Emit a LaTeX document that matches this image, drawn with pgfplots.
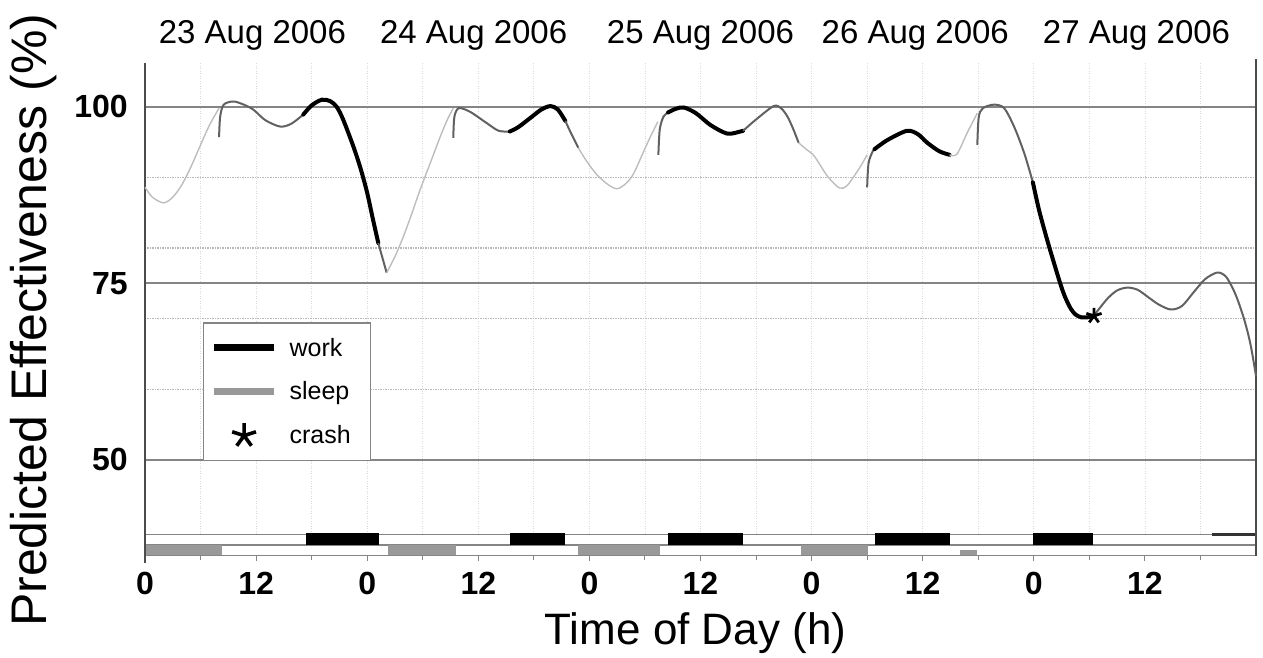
\documentclass[border=0pt]{standalone}
\usepackage{pgfplots}
\pgfplotsset{compat=1.18}
\usepackage{fontspec}
\setmainfont{Liberation Sans}
\definecolor{lightc}{gray}{0.74}
\definecolor{medc}{gray}{0.38}
\definecolor{gridmaj}{gray}{0.52}
\definecolor{gridmin}{gray}{0.72}
\definecolor{sleepc}{gray}{0.60}
\definecolor{axisc}{gray}{0.30}
\begin{document}
\begin{tikzpicture}
\begin{axis}[
  at={(0,0)}, anchor=south west,
  scale only axis, width=1111pt, height=493pt,
  xmin=0, xmax=120, ymin=36.4, ymax=106.2,
  clip=false,
  axis line style={draw=none},
  xtick={0,12,...,108},
  xticklabels={0,12,0,12,0,12,0,12,0,12},
  minor xtick={6,18,...,114},
  xtick pos=bottom, ytick pos=left,
  ytick={50,75,100},
  ytick style={draw=none},
  xtick style={draw=gridmaj, line width=1pt},
  tick align=outside,
  major tick length=5pt, minor tick length=4pt,
  /pgf/number format/assume math mode=true,
  tick label style={font=\fontsize{32}{32}\selectfont\bfseries},
  xticklabel style={anchor=center, yshift=-22pt},
  yticklabel style={anchor=east, inner sep=0pt, xshift=-12pt},
  xlabel={Time of Day (h)},
  ylabel={Predicted Effectiveness (\%)},
  xlabel style={at={(axis description cs:0.4955,-0.1805)}, anchor=base, font=\fontsize{44}{44}\selectfont},
  ylabel style={at={(axis description cs:-0.0891,0.478)}, anchor=base, font=\fontsize{50}{50}\selectfont},
  legend style={at={(axis description cs:0.0522,0.474)}, anchor=north west,
    draw=gridmaj, line width=1.2pt, fill=white,
    font=\fontsize{25}{25}\selectfont,
    inner xsep=7pt, inner ysep=13pt, row sep=20pt,
    nodes={inner sep=2pt},
    /tikz/every odd column/.append style={column sep=10pt},
    /tikz/every even column/.append style={text width=72pt}},
  legend cell align=left,
]
% grid lines
\pgfplotsinvokeforeach{6,12,...,114}{\draw[gray!30, line width=0.8pt, dash pattern=on 1pt off 1.5pt] (axis cs:#1,39.5) -- (axis cs:#1,106.2);}
\pgfplotsinvokeforeach{60,70,80,90}{\draw[gridmin, line width=1.2pt, dash pattern=on 1.5pt off 1pt] (axis cs:0,#1) -- (axis cs:120,#1);}
\pgfplotsinvokeforeach{50,75,100}{\draw[gridmaj, line width=2pt] (axis cs:0,#1) -- (axis cs:120,#1);}

% bar rows
\addplot[forget plot, draw=gridmaj, line width=1pt, fill=white] coordinates {(0,38.0) (120,38.0) (120,39.5) (0,39.5) (0,38.0)};
\addplot[forget plot, draw=gridmaj, line width=1pt, fill=white] coordinates {(0,36.5) (120,36.5) (120,37.9) (0,37.9) (0,36.5)};
% work
\addplot[forget plot, fill=black, draw=none] coordinates {(17.4,38.0) (25.3,38.0) (25.3,39.6) (17.4,39.6)};
\addplot[forget plot, fill=black, draw=none] coordinates {(39.4,38.0) (45.4,38.0) (45.4,39.6) (39.4,39.6)};
\addplot[forget plot, fill=black, draw=none] coordinates {(56.5,38.0) (64.6,38.0) (64.6,39.6) (56.5,39.6)};
\addplot[forget plot, fill=black, draw=none] coordinates {(78.8,38.0) (86.9,38.0) (86.9,39.6) (78.8,39.6)};
\addplot[forget plot, fill=black, draw=none] coordinates {(95.9,38.0) (102.4,38.0) (102.4,39.6) (95.9,39.6)};
\addplot[forget plot, fill=black!80, draw=none] coordinates {(115.3,39.3) (120,39.3) (120,39.7) (115.3,39.7)};
% sleep
\addplot[forget plot, fill=sleepc, draw=none] coordinates {(0,36.5) (8.3,36.5) (8.3,37.9) (0,37.9)};
\addplot[forget plot, fill=sleepc, draw=none] coordinates {(26.3,36.5) (33.6,36.5) (33.6,37.9) (26.3,37.9)};
\addplot[forget plot, fill=sleepc, draw=none] coordinates {(46.8,36.5) (55.6,36.5) (55.6,37.9) (46.8,37.9)};
\addplot[forget plot, fill=sleepc, draw=none] coordinates {(70.9,36.5) (78.1,36.5) (78.1,37.9) (70.9,37.9)};
\addplot[forget plot, fill=sleepc, draw=none] coordinates {(88.0,36.6) (89.9,36.6) (89.9,37.2) (88.0,37.2)};

% axis side lines
\draw[axisc, line width=2.2pt] (axis cs:0,35.4) -- (axis cs:0,106.2);
\draw[axisc, line width=2pt] (axis cs:120,36.4) -- (axis cs:120,106.8);

% curve segments
\tikzset{Lsty/.style={lightc, line width=1.4pt, smooth}, Msty/.style={medc, line width=2pt, smooth}, Wsty/.style={black, line width=4pt, smooth, line cap=round}}
\addplot[forget plot, Lsty] coordinates {(0,88.6) (0.8,87.2) (2,86.4) (3,87.2) (4,89.0) (5,91.6) (6,94.6) (7,97.5) (8,99.8)};
\addplot[forget plot, Msty] coordinates {(8,95.7) (8.12,98.6) (8.5,100.3) (9.5,100.75) (10.5,100.4) (11.7,99.6) (13,98.1) (14.6,97.2) (15.8,97.6) (17.1,98.9)};
\addplot[forget plot, Wsty] coordinates {(17.1,98.9) (18.0,100.2) (19.1,101.0) (20.0,100.8) (20.7,100.0) (21.4,98.2) (22.5,94.4) (23.3,91.2) (24.0,87.8) (24.6,84.2) (25.2,80.7)};
\addplot[forget plot, Msty] coordinates {(25.2,80.7) (26.1,76.5)};
\addplot[forget plot, Lsty] coordinates {(26.1,76.5) (27.0,78.8) (27.9,81.6) (28.8,84.8) (29.7,88.2) (30.8,92.0) (31.9,95.8) (32.7,98.3) (33.3,99.8)};
\addplot[forget plot, Msty] coordinates {(33.3,95.6) (33.42,98.6) (33.9,99.8) (35.1,99.3) (36.9,97.7) (38.2,96.6) (39.4,96.5)};
\addplot[forget plot, Wsty] coordinates {(39.4,96.5) (40.3,97.1) (41.6,98.4) (42.8,99.6) (43.8,100.1) (44.6,99.6) (45.4,98.0)};
\addplot[forget plot, Msty] coordinates {(45.4,98.0) (46.0,96.3) (46.8,94.2)};
\addplot[forget plot, Lsty] coordinates {(46.8,94.2) (47.7,92.3) (48.8,90.4) (50.0,89.0) (51.0,88.4) (52.0,89.2) (52.8,90.6) (53.8,93.5) (54.6,95.8) (55.4,97.9)};
\addplot[forget plot, Msty] coordinates {(55.45,93.2) (55.6,96.8) (56.0,98.6) (56.5,99.2)};
\addplot[forget plot, Wsty] coordinates {(56.5,99.2) (57.3,99.7) (58.2,99.9) (59.5,99.1) (61.1,97.4) (62.9,96.2) (64.3,96.5) (64.6,96.6)};
\addplot[forget plot, Msty] coordinates {(64.6,96.6) (66.0,98.2) (67.9,100.1) (68.7,99.8) (69.4,98.6) (70.0,96.9) (70.6,94.9)};
\addplot[forget plot, Lsty] coordinates {(70.6,94.9) (71.5,93.9) (72.3,93.0) (73.7,90.2) (75.0,88.5) (75.8,88.8) (76.6,90.2) (77.3,91.6) (78.0,93.2)};
\addplot[forget plot, Msty] coordinates {(78.0,88.6) (78.15,92.0) (78.6,93.7) (78.8,94.0)};
\addplot[forget plot, Wsty] coordinates {(78.8,94.0) (80.2,95.3) (82.3,96.6) (83.5,96.1) (84.5,94.9) (85.8,93.7) (86.9,93.2)};
\addplot[forget plot, Lsty] coordinates {(86.9,93.2) (87.7,93.3) (88.8,96.3) (89.9,99.1)};
\addplot[forget plot, Msty] coordinates {(89.9,94.6) (90.05,98.5) (90.5,99.8) (91.7,100.3) (92.8,99.8) (93.9,97.1) (95.0,93.3) (95.9,89.3)};
\addplot[forget plot, Wsty] coordinates {(95.9,89.3) (96.6,85.2) (97.5,80.9) (98.2,77.8) (98.9,74.8) (99.4,73.0) (100.0,71.4) (100.5,70.6) (101.1,70.2) (101.8,70.2) (102.4,70.3)};
\addplot[forget plot, Msty] coordinates {(102.4,70.3) (103.0,71.3) (104.0,72.9) (105.0,74.0) (106.1,74.4) (107.2,74.1) (108.3,73.1) (109.5,72.0) (110.8,71.3) (112.0,71.8) (113.3,73.8) (114.5,75.6) (115.7,76.5) (116.3,76.4) (116.9,75.7) (117.8,73.4) (118.7,70.0) (119.4,66.4) (120,61.9)};
% crash
\addplot[forget plot, only marks, mark=star, mark size=8pt, line width=2.8pt, black] coordinates {(102.5,70.4)};

% dates
\node[anchor=base, yshift=19pt, font=\fontsize{33}{33}\selectfont] at (axis cs:11.6,106.2) {23 Aug 2006};
\node[anchor=base, yshift=19pt, font=\fontsize{33}{33}\selectfont] at (axis cs:35.5,106.2) {24 Aug 2006};
\node[anchor=base, yshift=19pt, font=\fontsize{33}{33}\selectfont] at (axis cs:60.0,106.2) {25 Aug 2006};
\node[anchor=base, yshift=19pt, font=\fontsize{33}{33}\selectfont] at (axis cs:83.2,106.2) {26 Aug 2006};
\node[anchor=base, yshift=19pt, font=\fontsize{33}{33}\selectfont] at (axis cs:107.1,106.2) {27 Aug 2006};

% legend
\addlegendimage{legend image code/.code={\draw[black, line width=7pt] (0pt,0pt) -- (60pt,0pt);}}
\addlegendentry{work}
\addlegendimage{legend image code/.code={\draw[sleepc, line width=7pt] (0pt,0pt) -- (60pt,0pt);}}
\addlegendentry{sleep}
\addlegendimage{legend image code/.code={\begin{scope}[shift={(30pt,0pt)}]\pgfsetlinewidth{3.6pt}\pgfsetplotmarksize{12.5pt}\pgfsetstrokecolor{black}\pgfuseplotmark{star}\end{scope}\path (0pt,0pt) (60pt,0pt);}}
\addlegendentry{crash}
\end{axis}
\pgfresetboundingbox
\path[use as bounding box] (-145pt,-102pt) rectangle (1118pt,556pt);
\end{tikzpicture}
\end{document}
